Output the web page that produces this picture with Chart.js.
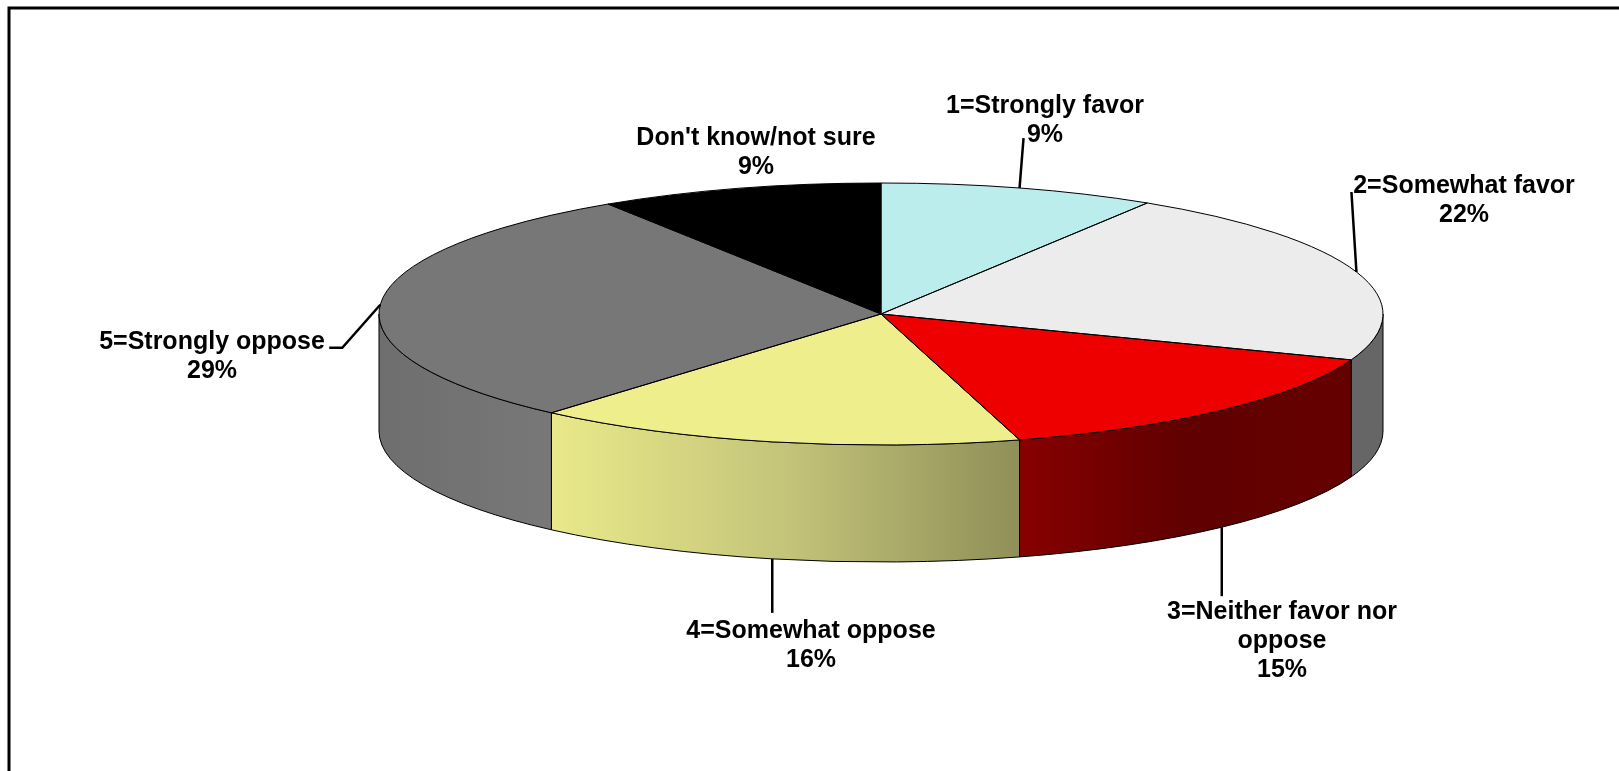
<!DOCTYPE html>
<html lang="en">
<head>
  <meta charset="UTF-8" />
  <title>Favor or oppose</title>
  <script src="https://cdn.jsdelivr.net/npm/chart.js"></script>
  <style>
    * { margin: 0; padding: 0; box-sizing: border-box; }
    body { background-color: #fff; overflow: hidden; }
    canvas { display: block; }
  </style>
</head>
<body>
  <canvas id="pieChart" width="1619" height="771"></canvas>

  <script>
    // data
    const categories = [
      ['1=Strongly favor'],
      ['2=Somewhat favor'],
      ['3=Neither favor nor', 'oppose'],
      ['4=Somewhat oppose'],
      ['5=Strongly oppose'],
      ["Don't know/not sure"]
    ];
    const shares = [8.9, 21.8, 14.85, 15.85, 29.45, 9.15];

    // styles
    const topColors = ['#bceded', '#ececec', '#ee0000', '#eeee8c', '#777777', '#000000'];
    const wallShades = [
      null,
      ['#666666', '#666666'],
      ['#880000', '#600000', '#660000'],
      ['#e9e98a', '#c4c47a', '#8f8f58'],
      ['#6e6e6e', '#787878'],
      null
    ];

    // layout of the tilted pie, in page pixels
    const centerX = 881;
    const centerY = 314;
    const radiusX = 502;
    const radiusY = 131;
    const wallDepth = 117;
    const frameLeft = 9;
    const frameTop = 8;

    // label centre per slice, and where each leader line stops (as offsets from the pie edge)
    const labelCenters = [[1045, 106], [1464, 186], [1282, 612], [811, 631], [212, 342], [756, 138]];
    const leaderEnds = [
      [[4, -50]],
      [[-5, -80]],
      [[0, 69]],
      [[0, 54]],
      [[-38, 43], [-51, 43]],
      null
    ];

    const tilt = radiusY / radiusX;

    const pie3d = {
      id: 'pie3d',
      beforeDatasetsDraw(chart) {
        const ctx = chart.ctx;
        const arcs = chart.getDatasetMeta(0).data;

        ctx.save();
        ctx.strokeStyle = '#000';
        ctx.lineWidth = 3;
        ctx.strokeRect(frameLeft, frameTop, 1800, 1000);
        ctx.restore();

        // side walls, only the part of each slice facing the viewer
        arcs.forEach((arc, i) => {
          const from = Math.max(arc.startAngle, 0);
          const to = Math.min(arc.endAngle, Math.PI);
          if (to <= from || !wallShades[i]) return;
          const x0 = arc.x + arc.outerRadius * Math.cos(to);
          const x1 = arc.x + arc.outerRadius * Math.cos(from);
          const grad = ctx.createLinearGradient(x0, 0, x1, 0);
          wallShades[i].forEach((c, k) => grad.addColorStop(k / (wallShades[i].length - 1), c));
          ctx.save();
          ctx.beginPath();
          ctx.ellipse(arc.x, arc.y, arc.outerRadius, radiusY, 0, from, to, false);
          ctx.ellipse(arc.x, arc.y + wallDepth, arc.outerRadius, radiusY, 0, to, from, true);
          ctx.closePath();
          ctx.fillStyle = grad;
          ctx.fill();
          ctx.lineWidth = 1;
          ctx.strokeStyle = '#000';
          ctx.stroke();
          ctx.restore();
        });

        // squash the flat pie the library draws next
        ctx.save();
        ctx.translate(centerX, centerY);
        ctx.scale(1, tilt);
        ctx.translate(-centerX, -centerY);
      },
      afterDatasetsDraw(chart) {
        const ctx = chart.ctx;
        const arcs = chart.getDatasetMeta(0).data;

        // slice outlines: path built squashed, stroked unsquashed so the line stays even
        arcs.forEach(arc => {
          ctx.beginPath();
          ctx.moveTo(arc.x, arc.y);
          ctx.arc(arc.x, arc.y, arc.outerRadius, arc.startAngle, arc.endAngle);
          ctx.closePath();
          ctx.save();
          ctx.setTransform(1, 0, 0, 1, 0, 0);
          ctx.lineWidth = 1;
          ctx.strokeStyle = '#000';
          ctx.stroke();
          ctx.restore();
        });
        ctx.restore();

        // leader lines start on the pie edge at each slice's middle angle
        arcs.forEach((arc, i) => {
          if (!leaderEnds[i]) return;
          const mid = (arc.startAngle + arc.endAngle) / 2;
          const sx = arc.x + arc.outerRadius * Math.cos(mid);
          let sy = arc.y + radiusY * Math.sin(mid);
          if (mid > 0 && mid < Math.PI) sy += wallDepth;
          ctx.save();
          ctx.beginPath();
          ctx.moveTo(sx, sy);
          leaderEnds[i].forEach(p => ctx.lineTo(sx + p[0], sy + p[1]));
          ctx.lineWidth = 2.5;
          ctx.strokeStyle = '#000';
          ctx.stroke();
          ctx.restore();
        });

        // labels
        ctx.save();
        ctx.font = 'bold 25px "Liberation Sans", Arial, sans-serif';
        ctx.fillStyle = '#000';
        ctx.textAlign = 'center';
        ctx.textBaseline = 'middle';
        categories.forEach((lines, i) => {
          const rows = lines.concat(Math.round(shares[i]) + '%');
          rows.forEach((row, k) => {
            ctx.fillText(row, labelCenters[i][0], labelCenters[i][1] + k * 29);
          });
        });
        ctx.restore();
      }
    };

    new Chart(document.getElementById('pieChart'), {
      type: 'pie',
      data: {
        labels: categories.map(c => c.join(' ')),
        datasets: [{
          data: shares,
          backgroundColor: topColors,
          borderWidth: 0,
          radius: radiusX,
          clip: false
        }]
      },
      options: {
        responsive: false,
        animation: false,
        layout: {
          // moves the pie centre to centerX, centerY
          padding: { left: 2 * centerX - 1619, bottom: 771 - 2 * centerY }
        },
        plugins: {
          legend: { display: false },
          tooltip: { enabled: false }
        }
      },
      plugins: [pie3d]
    });
  </script>
</body>
</html>
